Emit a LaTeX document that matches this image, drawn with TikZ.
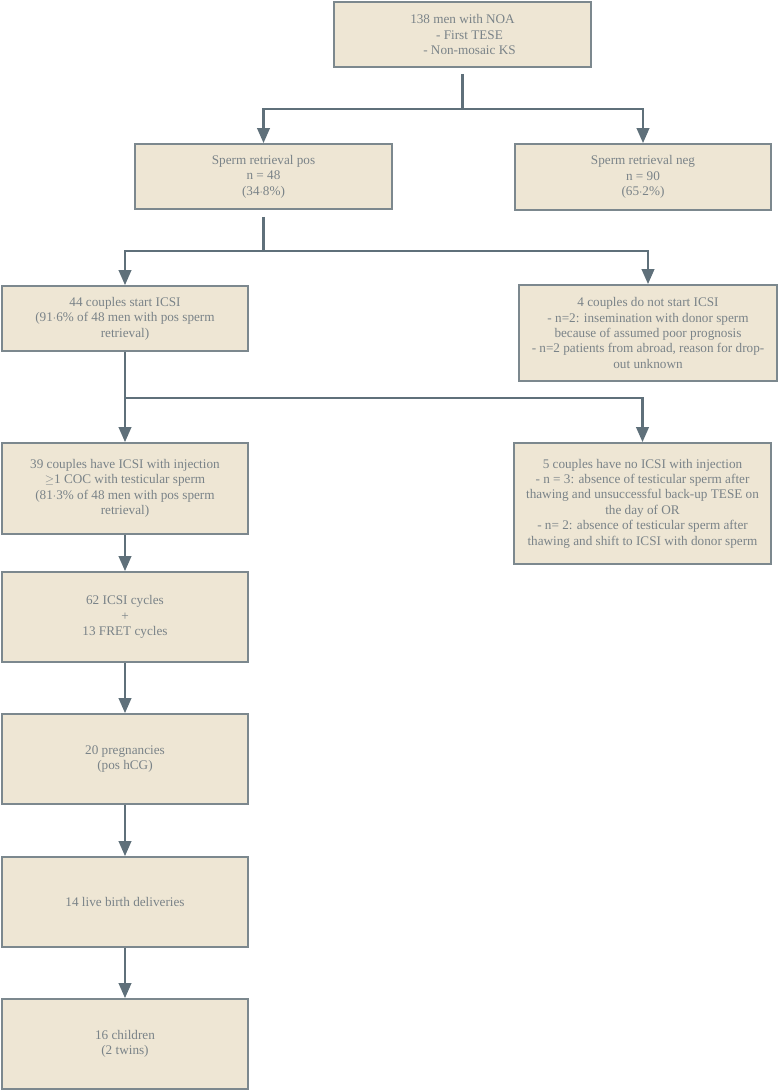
\documentclass[tikz,border=0pt]{standalone}
\usepackage{fontspec}
\setmainfont{Liberation Serif}
\usetikzlibrary{arrows.meta}
\definecolor{boxfill}{HTML}{EEE6D4}
\definecolor{boxline}{HTML}{7C888E}
\definecolor{arrcol}{HTML}{5F707A}
\definecolor{txtcol}{HTML}{7A8388}
\begin{document}
\begin{tikzpicture}[x=1pt,y=-1pt,
  fbox/.style={draw=boxline, line width=1.8pt, fill=boxfill, text=txtcol,
    align=center, inner sep=0pt, font=\fontsize{13.2}{15.4}\selectfont},
  conn/.style={draw=arrcol, line width=2.3pt},
  arr/.style={conn, -{Triangle[length=15pt,width=12.5pt]}}]
\useasboundingbox (0,0) rectangle (778,1092);
\node[fbox, minimum width=257pt, minimum height=65pt] (top) at (462.5,34.5)
  {138 men with NOA\\ \hspace*{14pt}- First TESE\\ \hspace*{14pt}- Non-mosaic KS};
\node[fbox, minimum width=257pt, minimum height=65pt] (pos) at (263.5,176.5)
  {Sperm retrieval pos\\ n = 48\\ (34$\cdot$8\%)};
\node[fbox, minimum width=256pt, minimum height=66pt] (neg) at (643,177)
  {Sperm retrieval neg\\ n = 90\\ (65$\cdot$2\%)};
\node[fbox, minimum width=246pt, minimum height=65pt] (start) at (125,318.5)
  {44 couples start ICSI\\ (91$\cdot$6\% of 48 men with pos sperm\\ retrieval)};
\node[fbox, minimum width=258pt, minimum height=96pt] (nostart) at (648,333)
  {4 couples do not start ICSI\\ - n=2: insemination with donor sperm\\ because of assumed poor prognosis\\ - n=2 patients from abroad, reason for drop-\\ out unknown};
\node[fbox, minimum width=246pt, minimum height=91pt] (inj) at (125,488.5)
  {39 couples have ICSI with injection\\ $\geq$1 COC with testicular sperm\\ (81$\cdot$3\% of 48 men with pos sperm\\ retrieval)};
\node[fbox, minimum width=257pt, minimum height=121pt] (noinj) at (642.5,503.5)
  {5 couples have no ICSI with injection\\ - n = 3: absence of testicular sperm after\\ thawing and unsuccessful back-up TESE on\\ the day of OR\\ - n= 2: absence of testicular sperm after\\ thawing and shift to ICSI with donor sperm};
\node[fbox, minimum width=246pt, minimum height=90pt] (cyc) at (125,617)
  {62 ICSI cycles\\ +\\ 13 FRET cycles};
\node[fbox, minimum width=246pt, minimum height=90pt] (preg) at (125,759)
  {20 pregnancies\\ (pos hCG)};
\node[fbox, minimum width=246pt, minimum height=90pt] (live) at (125,902)
  {14 live birth deliveries};
\node[fbox, minimum width=246pt, minimum height=90pt] (child) at (125,1044)
  {16 children\\ (2 twins)};
\coordinate (j1) at (462.5,109);
\coordinate (j2) at (263.5,251);
\coordinate (j3) at (125,398);
\draw[conn, shorten <=6pt] (top.south) -- (j1);
\draw[arr] (j1) -| (pos.north);
\draw[arr] (j1) -| (neg.north);
\draw[conn, shorten <=7pt] (pos.south) -- (j2);
\draw[arr] (j2) -| (start.north);
\draw[arr] (j2) -| (nostart.north);
\draw[conn] (start.south) -- (j3);
\draw[arr] (j3) -- (inj.north);
\draw[arr] (j3) -| (noinj.north);
\draw[arr] (inj) -- (cyc);
\draw[arr] (cyc) -- (preg);
\draw[arr] (preg) -- (live);
\draw[arr] (live) -- (child);
\end{tikzpicture}
\end{document}
